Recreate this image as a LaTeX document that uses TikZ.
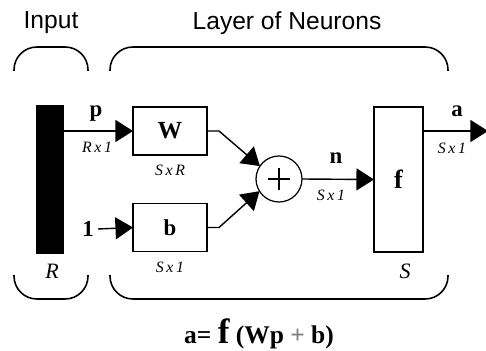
\documentclass[tikz,border=0pt]{standalone}
\usepackage{fontspec}
\setmainfont{Liberation Serif}
\setsansfont{Liberation Sans}
\usetikzlibrary{arrows.meta}
\begin{document}
\begin{tikzpicture}[x=0.02cm,y=-0.02cm,
  box/.style={draw,line width=0.7pt,inner sep=0pt,outer sep=0pt},
  arr/.style={line width=0.8pt,-{Triangle[length=10pt,width=12.5pt]}},
  brace/.style={line width=0.9pt,rounded corners=13pt},
  lbl/.style={inner sep=0pt,font=\fontsize{13}{15}\selectfont\bfseries},
  dim/.style={inner sep=0pt,font=\fontsize{9}{10}\selectfont\itshape},
  head/.style={inner sep=0pt,font=\fontsize{14}{16}\sffamily}]
\useasboundingbox (0,0) rectangle (486,351);
% headers
\node[head] (hin) at (51,23) {Input};
\node[head] (hlay) at (287,23) {Layer of Neurons};
% braces
\draw[brace] (14,71) -- (14,47) -- (88,47) -- (88,71);
\draw[brace] (110,71) -- (110,47) -- (448,47) -- (448,71);
\draw[brace] (14,275) -- (14,299) -- (88,299) -- (88,275);
\draw[brace] (110,275) -- (110,299) -- (448,299) -- (448,275);
% blocks
\node[box,fill=black,minimum width=0.52cm,minimum height=2.94cm] (bar) at (50,179.5) {};
\node[box,minimum width=1.48cm,minimum height=0.96cm,font=\fontsize{14}{16}\selectfont\bfseries] (W) at (170,131) {W};
\node[box,minimum width=1.48cm,minimum height=0.96cm,font=\fontsize{13}{15}\selectfont\bfseries] (b) at (170,227.5) {b};
\node[box,circle,minimum size=0.92cm] (sum) at (279,179) {};
\draw[line width=0.8pt] (sum.center) ++(-11,0) -- ++(22,0);
\draw[line width=0.8pt] (sum.center) ++(0,-11) -- ++(0,22);
\node[box,minimum width=0.98cm,minimum height=2.9cm,font=\fontsize{15}{17}\selectfont\bfseries] (f) at (398.5,179.5) {f};
\node[lbl] (one) at (88,229) {1};
\coordinate (out) at (488,131);
% connectors
\draw[arr] (bar.east |- W.west) -- (W.west);
\draw[arr] (one.east) ++(4,0) -- (b.west);
\draw[arr] (W.east) -- ++(12,0) -- (sum.146);
\draw[arr] (b.east) -- ++(12,0) -- (sum.212);
\draw[arr] (sum.east) -- (f.west);
\draw[arr] (f.east |- out) -- (out);
% labels
\node[lbl] (lp) at (96,114) {p};
\node[dim] (dp) at (97,147) {R\,x\,1};
\node[dim] (dW) at (170,170) {S\,x\,R};
\node[dim] (db) at (170,267) {S\,x\,1};
\node[lbl] (ln) at (336,158) {n};
\node[dim] (dn) at (331,195) {S\,x\,1};
\node[lbl] (la) at (457,111) {a};
\node[dim] (da) at (452,148) {S\,x\,1};
\node[inner sep=0pt,font=\fontsize{12.5}{14}\selectfont\itshape] (lR) at (52,271) {R};
\node[inner sep=0pt,font=\fontsize{12.5}{14}\selectfont\itshape] (lS) at (405,271) {S};
\node[inner sep=0pt,font=\fontsize{14.5}{16}\selectfont\bfseries] (eq) at (259,334) {a= {\fontsize{20}{20}\selectfont f} (Wp {\color{gray}+} b)};
\end{tikzpicture}
\end{document}
